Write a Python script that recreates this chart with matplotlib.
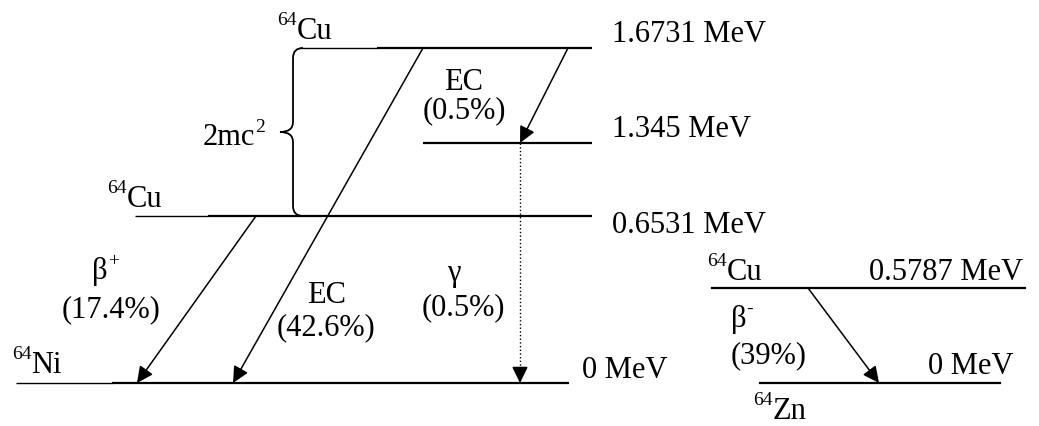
import matplotlib
matplotlib.use('Agg')
import matplotlib.pyplot as plt
from matplotlib.path import Path
from matplotlib.patches import PathPatch

plt.rcParams['font.family'] = ['Liberation Serif', 'DejaVu Serif']

# Уровни 64Cu -> 64Ni (энергии, МэВ)
ni_energies = [1.6731, 1.345, 0.6531, 0]
# Уровни 64Cu -> 64Zn
zn_energies = [0.5787, 0]
# Ветви распада
branch_names = ['β', 'EC', 'EC', 'γ', 'β']
branch_signs = ['+', '', '', '', '-']
branch_pct = [17.4, 42.6, 0.5, 0.5, 39]

# схема в пиксельных координатах (y вниз)
ni_y = [48, 143, 216, 383]
ni_thin = [(300, 377), None, (135, 208), (16, 112)]
ni_x0 = [377, 423, 208, 112]
ni_x1 = [592, 592, 592, 569]
zn_y = [288, 383]

fig = plt.figure(figsize=(10.39, 4.26), dpi=100)
ax = fig.add_axes([0, 0, 1, 1])
ax.set_xlim(0, 1039)
ax.set_ylim(426, 0)
ax.axis('off')

fs = 22
fs_sup = 14
lw_thick = 1.6
lw_thin = 1.0
lw_arrow = 1.1
renderer = fig.canvas.get_renderer()


def sup_label(x, y, parts, ha='left', raise_px=14):
    # parts: список (текст, верхний индекс?)
    texts = []
    for s, sup in parts:
        t = ax.text(0, y - raise_px if sup else y, s, fontsize=fs_sup if sup else fs,
                    ha='left', va='baseline')
        texts.append(t)
    widths = [t.get_window_extent(renderer).width for t in texts]
    total = sum(widths)
    if ha == 'center':
        x = x - total / 2
    elif ha == 'right':
        x = x - total
    for t, w in zip(texts, widths):
        t.set_x(x)
        x += w


# уровни слева
for y, thin, x0, x1 in zip(ni_y, ni_thin, ni_x0, ni_x1):
    if thin:
        ax.plot(thin, [y, y], color='black', lw=lw_thin, solid_capstyle='butt')
    ax.plot([x0, x1], [y, y], color='black', lw=lw_thick, solid_capstyle='butt')
for e, y, xt in zip(ni_energies, [42, 137, 233, 378], [612, 612, 612, 582]):
    ax.text(xt, y, f'{e:g} MeV', fontsize=fs, ha='left', va='baseline')

# уровни справа
ax.plot([712, 1025], [zn_y[0], zn_y[0]], color='black', lw=lw_thick)
ax.plot([760, 1000], [zn_y[1], zn_y[1]], color='black', lw=lw_thick)
ax.text(1023, 280, f'{zn_energies[0]:g} MeV', fontsize=fs, ha='right', va='baseline')
ax.text(1013, 374, f'{zn_energies[1]:g} MeV', fontsize=fs, ha='right', va='baseline')

# подписи нуклидов
sup_label(277, 39, [('64', True), ('Cu', False)])
sup_label(107, 207, [('64', True), ('Cu', False)])
sup_label(12, 373, [('64', True), ('Ni', False)])
sup_label(707, 280, [('64', True), ('Cu', False)])
sup_label(753, 419, [('64', True), ('Zn', False)])

# фигурная скобка 2mc^2
bx, ytop, ybot = 293, 48, 216
ymid = (ytop + ybot) / 2
verts = [(303, ytop), (bx, ytop), (bx, ytop + 10),
         (bx, ymid - 10), (bx, ymid), (bx - 13, ymid),
         (bx, ymid), (bx, ymid + 10),
         (bx, ybot - 10), (bx, ybot), (303, ybot)]
codes = [Path.MOVETO, Path.CURVE3, Path.CURVE3,
         Path.LINETO, Path.CURVE3, Path.CURVE3,
         Path.CURVE3, Path.CURVE3,
         Path.LINETO, Path.CURVE3, Path.CURVE3]
ax.add_patch(PathPatch(Path(verts, codes), fill=False, lw=1.3, color='black'))
sup_label(203, 145, [('2mc', False), ('2', True)], raise_px=13)

arrow = dict(arrowstyle='-|>,head_length=0.45,head_width=0.22', color='black',
             lw=lw_arrow, shrinkA=0, shrinkB=0, mutation_scale=22)

# стрелки переходов
ax.annotate('', xy=(137, 383), xytext=(256, 216), arrowprops=arrow)
ax.annotate('', xy=(233, 383), xytext=(423, 48), arrowprops=arrow)
ax.annotate('', xy=(520, 143), xytext=(568, 48), arrowprops=arrow)
ax.plot([520, 520], [143, 372], color='black', lw=1.0, ls=':')
ax.annotate('', xy=(520, 383), xytext=(520, 370), arrowprops=arrow)
ax.annotate('', xy=(879, 383), xytext=(808, 288), arrowprops=arrow)

# подписи ветвей
sup_label(92, 279, [(branch_names[0], False), (branch_signs[0], True)], raise_px=13)
ax.text(111, 317, f'({branch_pct[0]}%)', fontsize=fs, ha='center', va='baseline')
ax.text(327, 303, branch_names[1], fontsize=fs, ha='center', va='baseline')
ax.text(326, 335, f'({branch_pct[1]}%)', fontsize=fs, ha='center', va='baseline')
ax.text(464, 90, branch_names[2], fontsize=fs, ha='center', va='baseline')
ax.text(464, 118, f'({branch_pct[2]}%)', fontsize=fs, ha='center', va='baseline')
ax.text(454, 281, branch_names[3], fontsize=fs, ha='center', va='baseline')
ax.text(463, 315, f'({branch_pct[3]}%)', fontsize=fs, ha='center', va='baseline')
sup_label(731, 327, [(branch_names[4], False), (branch_signs[4], True)], raise_px=13)
ax.text(731, 363, f'({branch_pct[4]}%)', fontsize=fs, ha='left', va='baseline')

fig.savefig('out.png', dpi=100, facecolor='white')
